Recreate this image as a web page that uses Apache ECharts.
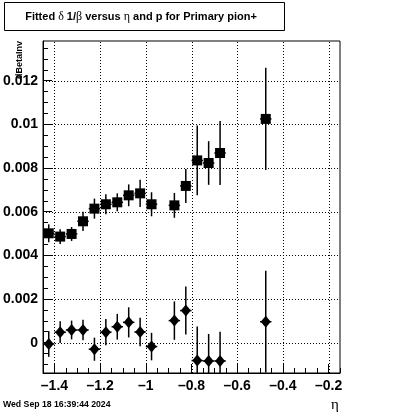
<!DOCTYPE html>
<html>
<head>
<meta charset="utf-8">
<script src="https://cdn.jsdelivr.net/npm/echarts@6/dist/echarts.min.js"></script>
<style>
html,body{margin:0;padding:0;background:#fff;}
#chart{width:400px;height:414px;}
</style>
</head>
<body>
<div id="chart"></div>
<script>
// ---- data ----
var etaCenters = [-1.425, -1.375, -1.325, -1.275, -1.225, -1.175, -1.125, -1.075, -1.025, -0.975, -0.875, -0.825, -0.775, -0.725, -0.675, -0.475];
var etaHalfWidth = [0.025, 0.025, 0.025, 0.025, 0.025, 0.025, 0.025, 0.025, 0.025, 0.025, 0.025, 0.025, 0.025, 0.025, 0.025, 0.025];
var squareValues = [0.00501, 0.00486, 0.00498, 0.00556, 0.00614, 0.00634, 0.00643, 0.00675, 0.00684, 0.00634, 0.00629, 0.00718, 0.00835, 0.00823, 0.00869, 0.01025];
var squareErrors = [0.00041, 0.00034, 0.00032, 0.00044, 0.00046, 0.00046, 0.00041, 0.00050, 0.00062, 0.00055, 0.00057, 0.00078, 0.00160, 0.00100, 0.00147, 0.00234];
var diamondValues = [-0.00006, 0.00048, 0.00058, 0.00058, -0.00030, 0.00048, 0.00073, 0.00093, 0.00049, -0.00018, 0.00101, 0.00147, -0.00082, -0.00084, -0.00084, 0.00096];
var diamondErrors = [0.00059, 0.00050, 0.00043, 0.00047, 0.00053, 0.00060, 0.00059, 0.00069, 0.00065, 0.00063, 0.00088, 0.00110, 0.00156, 0.00124, 0.00134, 0.00233];

var xTickValues = [-1.4, -1.2, -1.0, -0.8, -0.6, -0.4, -0.2];
var xTickLabels = ['\u20131.4', '\u20131.2', '\u20131', '\u20130.8', '\u20130.6', '\u20130.4', '\u20130.2'];
var yTickValues = [0, 0.002, 0.004, 0.006, 0.008, 0.01, 0.012];
var yTickLabels = ['0', '0.002', '0.004', '0.006', '0.008', '0.01', '0.012'];

var xRange = [-1.45, -0.15];
var yRange = [-0.00139, 0.01382];

var yAxisTitle = 'dBetaInv';
var xAxisTitle = '\u03b7';
var dateText = 'Wed Sep 18 16:39:44 2024';

// minor tick positions (every 0.05 in x, 0.0005 in y)
function steps(a, b, s) {
  var out = [];
  for (var v = a; v <= b + 1e-12; v += s) out.push(Math.round(v * 1e6) / 1e6);
  return out;
}
var xMinor = steps(-1.45, -0.15, 0.05);
var yMinor = steps(-0.001, 0.0135, 0.0005);

function lookup(vals, labels) {
  return function (v) {
    for (var i = 0; i < vals.length; i++) if (Math.abs(vals[i] - v) < 1e-9) return labels[i];
    return '';
  };
}

var sqData = etaCenters.map(function (x, i) { return [x, squareValues[i], etaHalfWidth[i], squareErrors[i]]; });
var dmData = etaCenters.map(function (x, i) { return [x, diamondValues[i], etaHalfWidth[i], diamondErrors[i]]; });

function errRender(params, api) {
  var x = api.value(0), y = api.value(1), ex = api.value(2), ey = api.value(3);
  var t = api.coord([x, y + ey]), b = api.coord([x, y - ey]);
  var l = api.coord([x - ex, y]), r = api.coord([x + ex, y]);
  var st = { stroke: '#000', lineWidth: 1.5 };
  return {
    type: 'group',
    children: [
      { type: 'line', shape: { x1: t[0], y1: t[1], x2: b[0], y2: b[1] }, style: st },
      { type: 'line', shape: { x1: l[0], y1: l[1], x2: r[0], y2: r[1] }, style: st }
    ]
  };
}

var gridStyle = { stroke: '#000', lineWidth: 1, lineDash: [1, 2] };
function vGridRender(params, api) {
  var v = api.value(0);
  var a = api.coord([v, yRange[0]]), b = api.coord([v, yRange[1]]);
  var x = Math.round(a[0]) + 0.5;
  return { type: 'line', shape: { x1: x, y1: a[1], x2: x, y2: b[1] }, style: gridStyle };
}
function hGridRender(params, api) {
  var v = api.value(1);
  var a = api.coord([xRange[0], v]), b = api.coord([xRange[1], v]);
  var y = Math.round(a[1]) + 0.5;
  return { type: 'line', shape: { x1: a[0], y1: y, x2: b[0], y2: y }, style: gridStyle };
}

var labelFont = { color: '#000', fontFamily: 'Liberation Sans', fontWeight: 'bold', fontSize: 14 };

var chart = echarts.init(document.getElementById('chart'), null, { renderer: 'canvas' });
chart.setOption({
  animation: false,
  backgroundColor: '#fff',
  grid: { left: 40, top: 41, width: 300, height: 332, show: true, borderColor: '#000', borderWidth: 1, backgroundColor: 'transparent' },
  xAxis: [
    {
      type: 'value', min: xRange[0], max: xRange[1], position: 'bottom',
      axisLine: { show: true, onZero: false, lineStyle: { color: '#000', width: 1 } },
      axisTick: { show: true, inside: true, length: 9, customValues: xTickValues, lineStyle: { color: '#000', width: 1 } },
      axisLabel: Object.assign({ show: true, margin: 6, customValues: xTickValues, formatter: lookup(xTickValues, xTickLabels) }, labelFont),
      splitLine: { show: false }
    },
    {
      type: 'value', min: xRange[0], max: xRange[1], position: 'bottom', offset: 0,
      axisLine: { show: false, onZero: false },
      axisTick: { show: true, inside: true, length: 5, customValues: xMinor, lineStyle: { color: '#000', width: 1 } },
      axisLabel: { show: false },
      splitLine: { show: false }
    }
  ],
  yAxis: [
    {
      type: 'value', min: yRange[0], max: yRange[1], position: 'left',
      axisLine: { show: true, onZero: false, lineStyle: { color: '#000', width: 1 } },
      axisTick: { show: true, inside: true, length: 9, customValues: yTickValues, lineStyle: { color: '#000', width: 1 } },
      axisLabel: Object.assign({ show: true, margin: 5, customValues: yTickValues, formatter: lookup(yTickValues, yTickLabels) }, labelFont),
      splitLine: { show: false }
    },
    {
      type: 'value', min: yRange[0], max: yRange[1], position: 'left', offset: 0,
      axisLine: { show: false, onZero: false },
      axisTick: { show: true, inside: true, length: 5, customValues: yMinor, lineStyle: { color: '#000', width: 1 } },
      axisLabel: { show: false },
      splitLine: { show: false }
    }
  ],
  series: [
    { type: 'custom', name: 'vgrid', renderItem: vGridRender, data: xTickValues.map(function (v) { return [v, 0]; }), z: 1, silent: true },
    { type: 'custom', name: 'hgrid', renderItem: hGridRender, data: yTickValues.map(function (v) { return [xRange[0], v]; }), z: 1, silent: true },
    { type: 'custom', name: 'sqErr', renderItem: errRender, data: sqData, clip: true, z: 2 },
    { type: 'custom', name: 'dmErr', renderItem: errRender, data: dmData, clip: true, z: 2 },
    { type: 'scatter', name: 'squares', symbol: 'rect', symbolSize: 10, itemStyle: { color: '#000', opacity: 1 },
      data: etaCenters.map(function (x, i) { return [x, squareValues[i]]; }), z: 3, clip: true },
    { type: 'scatter', name: 'diamonds', symbol: 'diamond', symbolSize: [10, 12], itemStyle: { color: '#000', opacity: 1 },
      data: etaCenters.map(function (x, i) { return [x, diamondValues[i]]; }), z: 3, clip: true }
  ],
  graphic: [
    { type: 'rect', shape: { x: 4.5, y: 2.5, width: 280, height: 28 }, style: { fill: '#fff', stroke: '#000', lineWidth: 1 }, z: 10 },
    { type: 'text', x: 141, y: 17, z: 11,
      style: {
        text: '{b|Fitted }{g|\u03b4}{b| 1/}{g|\u03b2}{b| versus }{g|\u03b7}{b| and p for Primary pion+}',
        align: 'center', verticalAlign: 'middle',
        rich: {
          b: { fontFamily: 'Liberation Sans', fontWeight: 'bold', fontSize: 11, fill: '#000' },
          g: { fontFamily: 'Liberation Serif', fontSize: 12, fill: '#000' }
        }
      }
    },
    { type: 'text', x: 20, y: 41, rotation: Math.PI / 2, z: 11,
      style: { text: yAxisTitle, align: 'right', verticalAlign: 'middle', fontFamily: 'Liberation Sans', fontWeight: 'bold', fontSize: 9, fill: '#000' } },
    { type: 'text', x: 3, y: 405, z: 11,
      style: { text: dateText, align: 'left', verticalAlign: 'middle', fontFamily: 'Liberation Sans', fontWeight: 'bold', fontSize: 8.7, fill: '#000' } },
    { type: 'text', x: 335, y: 405, z: 11,
      style: { text: xAxisTitle, align: 'center', verticalAlign: 'middle', fontFamily: 'Liberation Serif', fontSize: 15, fill: '#000' } }
  ]
});
</script>
</body>
</html>
